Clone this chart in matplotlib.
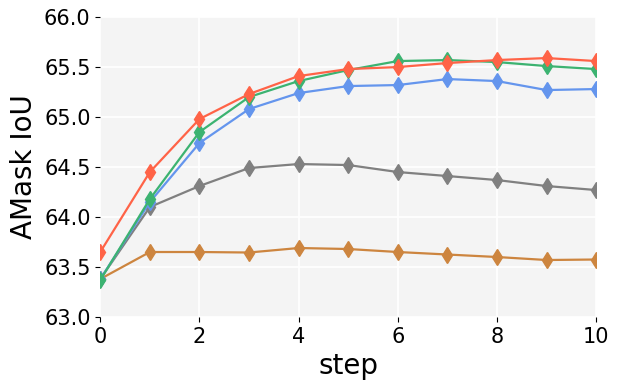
import matplotlib
matplotlib.use("Agg")
import matplotlib.pyplot as plt

steps = list(range(11))
red = [63.65, 64.45, 64.98, 65.23, 65.41, 65.48, 65.50, 65.54, 65.57, 65.59, 65.56]
green = [63.37, 64.18, 64.85, 65.20, 65.36, 65.47, 65.56, 65.57, 65.55, 65.51, 65.48]
blue = [63.38, 64.15, 64.74, 65.08, 65.24, 65.31, 65.32, 65.38, 65.36, 65.27, 65.28]
gray = [63.38, 64.10, 64.31, 64.49, 64.53, 64.52, 64.45, 64.41, 64.37, 64.31, 64.27]
orange = [63.38, 63.65, 63.65, 63.645, 63.69, 63.68, 63.65, 63.625, 63.60, 63.57, 63.575]

series = [(orange, "#cd853f"), (gray, "#808080"), (blue, "#6495ed"), (green, "#3cb371"), (red, "#ff6347")]

fig = plt.figure(figsize=(6.19, 3.88), dpi=100)
ax = fig.add_axes([0.162, 0.183, 0.801, 0.773])
ax.set_facecolor("#f4f4f4")
ax.grid(True, color="white", linewidth=1.2)
ax.set_axisbelow(True)
for ys, c in series:
    ax.plot(steps, ys, color=c, marker="d", markersize=8, linewidth=1.6)
ax.set_xlim(0, 10)
ax.set_ylim(63.0, 66.0)
ax.set_xticks([0, 2, 4, 6, 8, 10])
ax.set_yticks([63.0, 63.5, 64.0, 64.5, 65.0, 65.5, 66.0])
ax.set_yticklabels(["63.0", "63.5", "64.0", "64.5", "65.0", "65.5", "66.0"])
for s in ax.spines.values():
    s.set_visible(False)
ax.tick_params(labelsize=15)
ax.set_xlabel("step", fontsize=20)
ax.set_ylabel("AMask IoU", fontsize=20)
fig.savefig("out.png", dpi=100)
